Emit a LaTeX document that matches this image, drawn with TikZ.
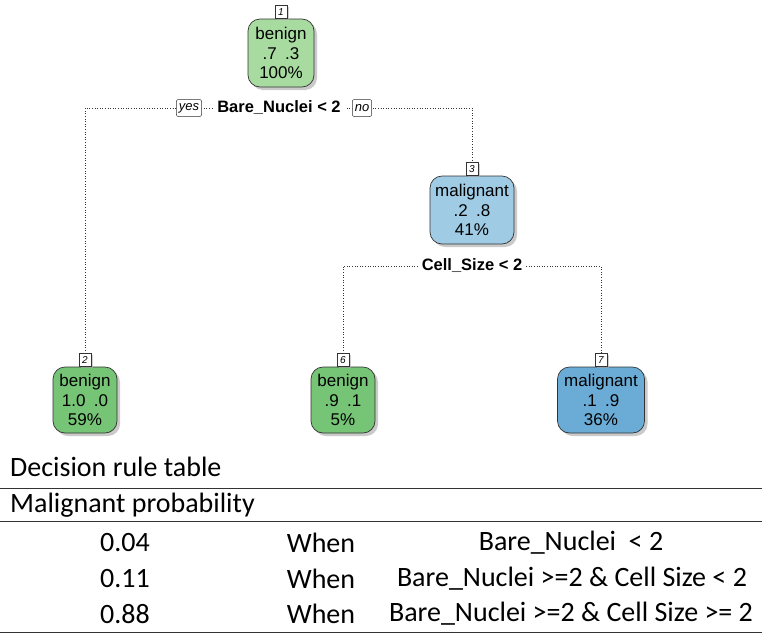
\documentclass[tikz,border=0pt]{standalone}
\usepackage{fontspec}
\setmainfont{Liberation Sans}
\newfontfamily\calib{Carlito}
\usetikzlibrary{shadows,backgrounds}
\definecolor{gA}{RGB}{168,219,160}
\definecolor{gB}{RGB}{118,196,118}
\definecolor{bA}{RGB}{160,203,228}
\definecolor{bB}{RGB}{106,172,214}
\tikzset{
  leaf/.style={draw=black!80, line width=0.7pt, rounded corners=12pt, align=center,
    font=\fontsize{17}{19.5}\selectfont, inner sep=0pt,
    drop shadow={shadow xshift=3pt, shadow yshift=-3pt, fill=black!35, opacity=0.6}},
  numlbl/.style={draw=black!80, line width=0.5pt, fill=white, inner sep=0pt, minimum width=12pt, minimum height=13pt,
    font=\fontsize{10}{11}\selectfont\itshape,
    drop shadow={shadow xshift=2pt, shadow yshift=-2pt, fill=black!30, opacity=0.6}},
  yn/.style={draw=black!80, line width=0.5pt, fill=white, rounded corners=2pt, inner xsep=2.5pt, inner ysep=1pt, minimum height=17pt,
    font=\fontsize{13}{14}\selectfont\itshape},
  splitlbl/.style={fill=white, inner xsep=4pt, inner ysep=1pt, font=\fontsize{16.5}{18}\selectfont\bfseries},
  conn/.style={dotted, line width=0.6pt, black!80},
  tbl/.style={font=\calib\fontsize{28}{30}\selectfont, inner sep=0pt},
  rule/.style={line width=0.8pt, black!80}
}
\begin{document}
\begin{tikzpicture}[x=1pt,y=-1pt]
\useasboundingbox (0,0) rectangle (766,638);
% tree nodes
\node[leaf, fill=gA, minimum width=66pt, minimum height=68pt] (n1) at (281,53) {benign\\.7\enspace.3\\100\%};
\node[numlbl, anchor=south] (l1) at (n1.north) {1};
\node[leaf, fill=bA, minimum width=84pt, minimum height=68pt] (n3) at (472,210) {malignant\\.2\enspace.8\\41\%};
\node[numlbl, anchor=south] (l3) at (n3.north) {3};
\node[leaf, fill=gB, minimum width=64pt, minimum height=66pt] (n2) at (85,400) {benign\\1.0\enspace.0\\59\%};
\node[numlbl, anchor=south] (l2) at (n2.north) {2};
\node[leaf, fill=gB, minimum width=64pt, minimum height=66pt] (n6) at (343,400) {benign\\.9\enspace.1\\5\%};
\node[numlbl, anchor=south] (l6) at (n6.north) {6};
\node[leaf, fill=bB, minimum width=87pt, minimum height=66pt] (n7) at (601,400) {malignant\\.1\enspace.9\\36\%};
\node[numlbl, anchor=south] (l7) at (n7.north) {7};
% split labels
\coordinate (s1) at (279,108);
\coordinate (s3) at (472,266);
\node[splitlbl] (sp1) at (s1) {Bare\_Nuclei < 2};
\node[yn] (yes) at (189,108) {yes};
\node[yn] (no) at (362,108) {no};
\node[splitlbl] (sp3) at (s3) {Cell\_Size < 2};
\begin{pgfonlayer}{background}
\draw[conn] (l2.north) |- (s1) -| (l3.north);
\draw[conn] (l6.north) |- (s3) -| (l7.north);
\end{pgfonlayer}
% table
\node[tbl, anchor=west] (tt) at (10,467) {Decision rule table};
\coordinate (r1a) at (0,488); \coordinate (r1b) at (762,488);
\draw[rule] (r1a) -- (r1b);
\node[tbl, anchor=west] (th) at (10,505) {Malignant probability};
\coordinate (r2a) at (0,521); \coordinate (r2b) at (762,521);
\draw[rule] (r2a) -- (r2b);
\node[tbl] (p1) at (125,543) {0.04};
\node[tbl] (w1) at (321,543) {When};
\node[tbl] (c1) at (571,543) {Bare\_Nuclei\ \ < 2};
\node[tbl] (p2) at (125,579) {0.11};
\node[tbl] (w2) at (321,579) {When};
\node[tbl] (c2) at (572,579) {Bare\_Nuclei >=2 \& Cell Size < 2};
\node[tbl] (p3) at (125,614) {0.88};
\node[tbl] (w3) at (321,614) {When};
\node[tbl] (c3) at (571,614) {Bare\_Nuclei >=2 \& Cell Size >= 2};
\coordinate (r3a) at (0,632); \coordinate (r3b) at (762,632);
\draw[rule] (r3a) -- (r3b);
\end{tikzpicture}
\end{document}
